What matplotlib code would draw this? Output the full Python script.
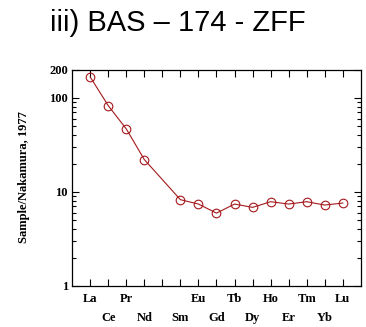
import matplotlib.pyplot as plt
import numpy as np
from matplotlib.ticker import LogLocator, NullFormatter, FixedLocator

# REE series (Pm has no analysis, kept as an empty slot on the axis)
ree_axis = ["La", "Ce", "Pr", "Nd", "Pm", "Sm", "Eu", "Gd", "Tb",
            "Dy", "Ho", "Er", "Tm", "Yb", "Lu"]
elements = ["La", "Ce", "Pr", "Nd", "Sm", "Eu", "Gd", "Tb",
            "Dy", "Ho", "Er", "Tm", "Yb", "Lu"]
normalized = [167, 82.7, 46.8, 22.1, 8.27, 7.43, 5.95, 7.43,
              6.85, 7.87, 7.43, 7.87, 7.25, 7.62]
y_ticks = [1, 10, 100, 200]

serif = {"family": "Liberation Serif", "weight": "bold"}
red = "#a3191c"

fig = plt.figure(figsize=(3.66, 3.27), dpi=100)
ax = fig.add_axes([0.197, 0.1254, 0.789, 0.662])

xpos = [ree_axis.index(e) + 1 for e in elements]
ax.plot(xpos, normalized, "-", color=red, lw=0.8, marker="o",
        ms=6.2, mfc="none", mec=red, mew=0.8)

ax.set_yscale("log")
ax.set_ylim(1, 200)
ax.set_xlim(0, len(ree_axis) + 1)

ax.yaxis.set_major_locator(FixedLocator(y_ticks))
ax.set_yticklabels([str(v) for v in y_ticks], fontdict=serif, fontsize=9)
ax.yaxis.set_minor_locator(LogLocator(base=10, subs=np.arange(2, 10)))
ax.yaxis.set_minor_formatter(NullFormatter())

ax.set_xticks(range(1, len(ree_axis) + 1))
ax.set_xticklabels([])
for i, name in enumerate(ree_axis):
    if name == "Pm":
        continue
    row = 0 if i % 2 == 0 else 1
    ax.text(i + 1, -0.060 - row * 0.087, name, transform=ax.get_xaxis_transform(),
            ha="center", va="center", fontsize=9, **serif)

ax.tick_params(which="both", direction="in", top=True, right=True,
               width=0.8, colors="black")
ax.tick_params(which="major", length=5, pad=3)
ax.tick_params(which="minor", length=3)
ax.tick_params(axis="x", top=True, length=5)
for s in ax.spines.values():
    s.set_linewidth(0.9)

fig.text(0.066, 0.458, "Sample/Nakamura, 1977", rotation=90, ha="center",
         va="center", fontsize=9, **serif)
fig.text(0.486, 0.93, "iii) BAS \u2013 174 - ZFF", ha="center", va="center",
         fontsize=21, family="Liberation Sans")

fig.savefig("out.png", dpi=100)
